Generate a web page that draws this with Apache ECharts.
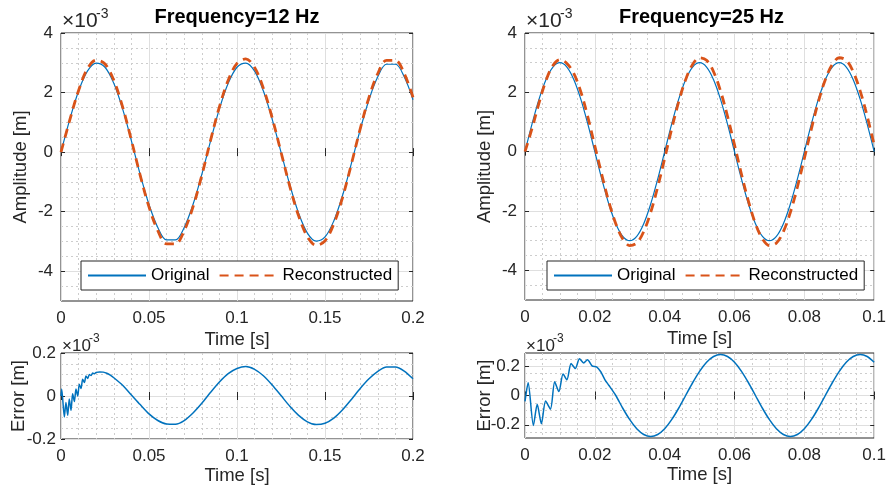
<!DOCTYPE html>
<html>
<head>
<meta charset="utf-8">
<script src="https://cdn.jsdelivr.net/npm/echarts@6/dist/echarts.min.js"></script>
<style>html,body{margin:0;padding:0;background:#fff;}#chart{width:889px;height:488px;}</style>
</head>
<body>
<div id="chart"></div>
<script>
// ---------------- data (amplitudes and errors in units of 1e-3 m) ----------------
const T12 = [0,0.005,0.01,0.015,0.02,0.025,0.03,0.035,0.04,0.045,0.05,0.055,0.06,0.065,0.07,0.075,0.08,0.085,0.09,0.095,0.1,0.105,0.11,0.115,0.12,0.125,0.13,0.135,0.14,0.145,0.15,0.155,0.16,0.165,0.17,0.175,0.18,0.185,0.19,0.195,0.2];
const ORIG12 = [0,1.10,2.05,2.72,2.99,2.85,2.31,1.45,0.38,-0.75,-1.76,-2.53,-2.95,-2.95,-2.53,-1.76,-0.75,0.38,1.45,2.31,2.85,2.99,2.72,2.05,1.10,0,-1.10,-2.05,-2.72,-2.99,-2.85,-2.31,-1.45,-0.38,0.75,1.76,2.53,2.95,2.95,2.53,1.76];
const RECON12 = [0,1.08,2.07,2.80,3.09,2.96,2.41,1.52,0.40,-0.78,-1.84,-2.64,-3.08,-3.08,-2.64,-1.84,-0.78,0.40,1.52,2.41,2.98,3.13,2.84,2.14,1.15,0,-1.15,-2.14,-2.84,-3.13,-2.98,-2.41,-1.52,-0.40,0.78,1.84,2.64,3.08,3.08,2.64,1.84];
const ERR12_T = [0,0.0004,0.0019,0.0028,0.0038,0.0047,0.0057,0.0066,0.0076,0.0085,0.0095,0.0104,0.0114,0.0123,0.0133,0.0142,0.0152,0.0161,0.0171,0.018,0.019,0.02,0.022,0.024,0.026,0.028,0.03,0.035,0.04,0.045,0.05,0.055,0.06,0.065,0.07,0.075,0.08,0.085,0.09,0.095,0.1,0.105,0.11,0.115,0.12,0.125,0.13,0.135,0.14,0.145,0.15,0.155,0.16,0.165,0.17,0.175,0.18,0.185,0.19,0.195,0.2];
const ERR12 = [0,0.032,-0.098,-0.03,-0.09,-0.014,-0.067,0.01,-0.026,0.032,0.0,0.055,0.035,0.078,0.063,0.093,0.081,0.10,0.095,0.107,0.103,0.11,0.112,0.111,0.106,0.097,0.085,0.05,0.005,-0.04,-0.083,-0.114,-0.13,-0.131,-0.114,-0.079,-0.034,0.017,0.065,0.104,0.128,0.137,0.124,0.094,0.051,0.002,-0.048,-0.09,-0.12,-0.133,-0.127,-0.103,-0.064,-0.016,0.035,0.08,0.115,0.135,0.135,0.116,0.08];

const T25 = [0,0.002,0.004,0.006,0.008,0.01,0.012,0.014,0.016,0.018,0.02,0.022,0.024,0.026,0.028,0.03,0.032,0.034,0.036,0.038,0.04,0.042,0.044,0.046,0.048,0.05,0.052,0.054,0.056,0.058,0.06,0.062,0.064,0.066,0.068,0.07,0.072,0.074,0.076,0.078,0.08,0.082,0.084,0.086,0.088,0.09,0.092,0.094,0.096,0.098,0.1];
const ORIG25 = [0,0.927,1.763,2.427,2.853,3,2.853,2.427,1.763,0.927,0,-0.927,-1.763,-2.427,-2.853,-3,-2.853,-2.427,-1.763,-0.927,0,0.927,1.763,2.427,2.853,3,2.853,2.427,1.763,0.927,0,-0.927,-1.763,-2.427,-2.853,-3,-2.853,-2.427,-1.763,-0.927,0,0.927,1.763,2.427,2.853,3,2.853,2.427,1.763,0.927,0];
const RECON25 = [0,0.777,1.633,2.397,2.903,3.10,2.973,2.627,2.013,1.167,0.19,-0.777,-1.683,-2.427,-2.94,-3.165,-3.08,-2.693,-2.043,-1.193,-0.227,0.762,1.676,2.427,2.94,3.165,3.08,2.693,2.043,1.193,0.227,-0.762,-1.676,-2.427,-2.94,-3.165,-3.08,-2.693,-2.043,-1.193,-0.227,0.762,1.676,2.427,2.94,3.165,3.08,2.693,2.043,1.193,0.227];
const ERR25_T = [0,0.0009,0.0024,0.0035,0.0047,0.0059,0.0073,0.0085,0.0097,0.0109,0.012,0.0132,0.0144,0.0156,0.0168,0.0179,0.0193,0.0205,0.0217,0.0229,0.024,0.026,0.028,0.03,0.032,0.034,0.036,0.038,0.04,0.042,0.044,0.046,0.048,0.05,0.052,0.054,0.056,0.058,0.06,0.062,0.064,0.066,0.068,0.07,0.072,0.074,0.076,0.078,0.08,0.082,0.084,0.086,0.088,0.09,0.092,0.094,0.096,0.098,0.1];
const ERR25 = [-0.04,0.087,-0.204,-0.06,-0.193,-0.038,-0.093,0.093,0.027,0.147,0.107,0.218,0.184,0.251,0.222,0.244,0.2,0.196,0.162,0.107,0.07,0,-0.087,-0.165,-0.227,-0.266,-0.28,-0.266,-0.227,-0.165,-0.087,0,0.087,0.165,0.227,0.266,0.28,0.266,0.227,0.165,0.087,0,-0.087,-0.165,-0.227,-0.266,-0.28,-0.266,-0.227,-0.165,-0.087,0,0.087,0.165,0.227,0.266,0.28,0.266,0.227];

// ---------------- ticks ----------------
const AMP_Y_TICKS = [-4,-2,0,2,4];
const AMP_Y_MINOR = [-4.5,-3.5,-3,-2.5,-1.5,-1,-0.5,0.5,1,1.5,2.5,3,3.5];
const ERR_Y_TICKS = [-0.2,0,0.2];
const ERR12_Y_MINOR = [-0.15,-0.1,-0.05,0.05,0.1,0.15];
const ERR25_Y_MINOR = [-0.25,-0.15,-0.1,-0.05,0.05,0.1,0.15,0.25];
const TITLES = ['Frequency=12 Hz','Frequency=25 Hz'];
const SERIES_NAMES = ['Original','Reconstructed'];

const FONT = '"Liberation Sans", Arial, Helvetica, sans-serif';
const AX = '#262626';
const BLUE = '#0072BD', ORANGE = '#D95319';
const MAJOR = {show:true, lineStyle:{color:'#dfdfdf', width:1, type:'solid'}};
const MINOR = {show:true, lineStyle:{color:'#cdcdcd', width:1, type:[2,3]}};

const grids = [
  {left:61, top:33, width:352, height:268},
  {left:525, top:33, width:353, height:267},
  {left:61, top:353, width:352, height:86},
  {left:525, top:353, width:353, height:85}
].map(g => Object.assign({show:true, borderColor:AX, borderWidth:1, backgroundColor:'#fff', containLabel:false}, g));

const xAxis = [], yAxis = [];
function addX(g, max, interval, split, nameGap){
  xAxis.push({gridIndex:g, type:'value', min:0, max:max, interval:interval, position:'bottom',
    axisLine:{show:false}, axisTick:{show:true, inside:true, length:4, lineStyle:{color:AX}},
    axisLabel:{show:true, margin:9, color:AX, fontSize:17, fontFamily:FONT, showMinLabel:true, showMaxLabel:true, hideOverlap:false},
    splitLine:MAJOR, minorTick:{show:false, splitNumber:split}, minorSplitLine:MINOR,
    name:'Time [s]', nameLocation:'middle', nameGap:nameGap, nameMoveOverlap:false,
    nameTextStyle:{color:AX, fontSize:18.5, fontFamily:FONT}});
  xAxis.push({gridIndex:g, type:'value', min:0, max:max, interval:interval, position:'top',
    axisLine:{show:false}, axisTick:{show:true, inside:true, length:4, lineStyle:{color:AX}},
    axisLabel:{show:false}, splitLine:{show:false}});
}
function addY(g, min, max, ticks, minor, name, nameGap, margin){
  yAxis.push({gridIndex:g, type:'value', min:min, max:max, position:'left',
    axisLine:{show:false}, axisTick:{show:true, inside:true, length:4, customValues:ticks, lineStyle:{color:AX}},
    axisLabel:{show:true, customValues:ticks, margin:margin, color:AX, fontSize:17, fontFamily:FONT, showMinLabel:true, showMaxLabel:true},
    splitLine:MAJOR,
    name:name, nameLocation:'middle', nameGap:nameGap, nameMoveOverlap:false,
    nameTextStyle:{color:AX, fontSize:18.5, fontFamily:FONT}});
  yAxis.push({gridIndex:g, type:'value', min:min, max:max, position:'left',
    axisLine:{show:false}, axisTick:{show:false, customValues:minor}, axisLabel:{show:false},
    splitLine:MINOR});
  yAxis.push({gridIndex:g, type:'value', min:min, max:max, position:'right',
    axisLine:{show:false}, axisTick:{show:true, inside:true, length:4, customValues:ticks, lineStyle:{color:AX}},
    axisLabel:{show:false}, splitLine:{show:false}});
}
addX(0, 0.2, 0.05, 5, 29); addY(0, -5, 4, AMP_Y_TICKS, AMP_Y_MINOR, 'Amplitude [m]', 31, 8);
addX(1, 0.1, 0.02, 4, 29); addY(1, -5, 4, AMP_Y_TICKS, AMP_Y_MINOR, 'Amplitude [m]', 31, 8);
addX(2, 0.2, 0.05, 5, 27); addY(2, -0.2, 0.2, ERR_Y_TICKS, ERR12_Y_MINOR, 'Error [m]', 33, 5);
addX(3, 0.1, 0.02, 4, 27); addY(3, -0.29, 0.29, ERR_Y_TICKS, ERR25_Y_MINOR, 'Error [m]', 31, 5);

function pairs(t, v){ return t.map((x,i)=>[x, v[i]]); }
function line(g, name, t, v, color, width, type, smooth){
  return {type:'line', name:name, xAxisIndex:2*g, yAxisIndex:3*g, data:pairs(t,v), symbol:'none', showSymbol:false,
    smooth:smooth, lineStyle:{color:color, width:width, type:type}, itemStyle:{color:color}, animation:false, z:3};
}
const series = [
  line(0, SERIES_NAMES[0], T12, ORIG12, BLUE, 1.2, 'solid', 0.35),
  line(0, SERIES_NAMES[1], T12, RECON12, ORANGE, 2.8, [9,6], 0.35),
  line(1, SERIES_NAMES[0], T25, ORIG25, BLUE, 1.2, 'solid', 0.35),
  line(1, SERIES_NAMES[1], T25, RECON25, ORANGE, 2.8, [9,6], 0.35),
  line(2, 'Error12', ERR12_T, ERR12, BLUE, 1.5, 'solid', 0.25),
  line(3, 'Error25', ERR25_T, ERR25, BLUE, 1.5, 'solid', 0.25)
];

function legendAt(left){
  return {data:SERIES_NAMES, left:left, top:261, orient:'horizontal', itemWidth:58, itemHeight:14, itemGap:9,
    padding:[6,6,6,6], backgroundColor:'#fff', borderColor:AX, borderWidth:1, borderRadius:0,
    itemStyle:{opacity:0, borderWidth:0},
    textStyle:{color:'#000', fontSize:17, fontFamily:FONT}, selectedMode:false};
}

function txt(x, y, text, size, bold, align){
  return {type:'text', x:x, y:y, z:10, style:{text:text, fill: bold ? '#000' : AX, font:(bold?'bold ':'')+size+'px '+FONT,
    textAlign:align||'left', textVerticalAlign:'middle'}};
}
const graphic = [
  txt(237, 17, TITLES[0], 20, true, 'center'),
  txt(701.5, 17, TITLES[1], 20, true, 'center'),
  txt(62, 21, '\u00d710', 21), txt(96, 14, '-3', 14),
  txt(526, 21, '\u00d710', 21), txt(560, 14, '-3', 14),
  txt(62, 346, '\u00d710', 17), txt(89, 339, '-3', 12),
  txt(526, 346, '\u00d710', 17), txt(553, 339, '-3', 12)
];

const chart = echarts.init(document.getElementById('chart'), null, {renderer:'canvas'});
chart.setOption({
  animation:false, backgroundColor:'#fff',
  textStyle:{fontFamily:FONT},
  grid:grids, xAxis:xAxis, yAxis:yAxis, series:series,
  legend:[legendAt(81), legendAt(547)],
  graphic:graphic
});
</script>
</body>
</html>
